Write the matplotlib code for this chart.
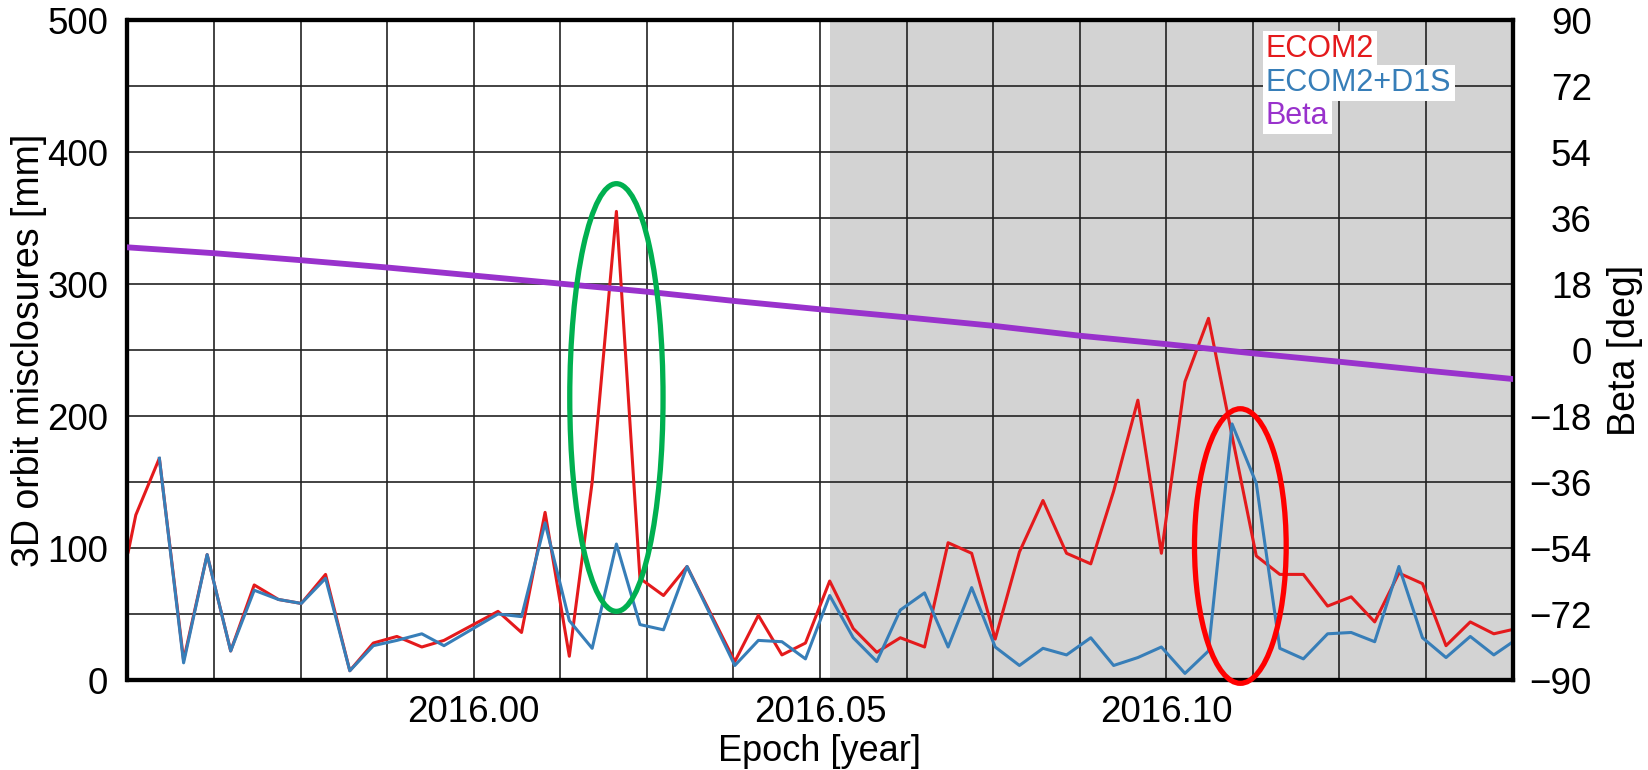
import numpy as np
import matplotlib
matplotlib.use("Agg")
import matplotlib.pyplot as plt
from matplotlib.patches import Ellipse
from matplotlib.ticker import MultipleLocator, FixedLocator, FormatStrFormatter

plt.rcParams['font.family'] = ['Liberation Sans', 'DejaVu Sans']

# ---------------- data ----------------
epoch = [2015.9501, 2015.9512, 2015.9546, 2015.9581, 2015.9615, 2015.9649, 2015.9683,
         2015.9718, 2015.9751, 2015.9786, 2015.9821, 2015.9855, 2015.9889, 2015.9925,
         2015.9957, 2016.0035, 2016.0069, 2016.0103, 2016.0138, 2016.0171, 2016.0206,
         2016.0240, 2016.0274, 2016.0308, 2016.0377, 2016.0411, 2016.0445, 2016.0479,
         2016.0514, 2016.0548, 2016.0582, 2016.0616, 2016.0651, 2016.0685, 2016.0719,
         2016.0753, 2016.0788, 2016.0822, 2016.0856, 2016.0891, 2016.0924, 2016.0959,
         2016.0993, 2016.1027, 2016.1061, 2016.1095, 2016.1130, 2016.1164, 2016.1198,
         2016.1233, 2016.1267, 2016.1301, 2016.1336, 2016.1370, 2016.1404, 2016.1439,
         2016.1473, 2016.1498]

ecom2 = [97, 125, 168, 15, 95, 22, 72, 61, 58, 80, 7, 28, 33, 25, 30, 52, 36, 127,
         18, 150, 355, 77, 64, 86, 14, 49, 19, 28, 75, 39, 21, 32, 25, 104, 96, 31,
         97, 136, 96, 88, 143, 212, 96, 226, 274, 185, 94, 80, 80, 56, 63, 44, 81,
         73, 26, 44, 35, 38]

ecom2_d1s = [np.nan, np.nan, 168, 13, 95, 22, 68, 61, 58, 77, 7, 26, 30, 35, 26, 50,
             48, 119, 45, 24, 103, 42, 38, 86, 11, 30, 29, 16, 64, 32, 14, 53, 66, 25,
             70, 25, 11, 24, 19, 32, 11, 17, 25, 5, 22, 194, 149, 24, 16, 35, 36, 29,
             86, 32, 17, 33, 19, 28]

beta_epoch = [2015.95, 2015.9625, 2015.975, 2015.9875, 2016.00, 2016.0125, 2016.025,
              2016.0375, 2016.05, 2016.0625, 2016.075, 2016.0875, 2016.10, 2016.1125,
              2016.125, 2016.1375, 2016.15]
beta = [28.0, 26.4, 24.5, 22.5, 20.3, 18.1, 15.9, 13.4, 11.1, 8.9, 6.6, 3.9, 1.6,
        -0.9, -3.2, -5.6, -7.9]

shade_start = 2016.0514
x_range = (2015.95, 2016.15)
xtick_labels_at = [2016.00, 2016.05, 2016.10]
legend_labels = ['ECOM2', 'ECOM2+D1S', 'Beta']

# ellipses: (center epoch, center mm, width yr, height mm)
green_ellipse = (2016.0206, 214, 0.01347, 324)
red_ellipse = (2016.1107, 101.5, 0.01324, 208)

RED = '#e41a1c'
BLUE = '#377eb8'
PURPLE = '#9932cc'

# ---------------- figure ----------------
fig = plt.figure(figsize=(16.49, 7.70), dpi=100)
ax = fig.add_axes([127.5 / 1649, 90 / 770, 1385 / 1649, 660 / 770])

ax.axvspan(shade_start, x_range[1], facecolor='#d3d3d3', edgecolor='none', zorder=0.2)
ax.plot(epoch, ecom2, color=RED, lw=2.2, zorder=2)
ax.plot(epoch, ecom2_d1s, color=BLUE, lw=2.2, zorder=3)

ax.set_xlim(*x_range)
ax.set_ylim(0, 500)
ax.xaxis.set_major_locator(FixedLocator(xtick_labels_at))
ax.xaxis.set_minor_locator(MultipleLocator(0.0125))
ax.xaxis.set_major_formatter(FormatStrFormatter('%.2f'))
ax.yaxis.set_major_locator(MultipleLocator(100))
ax.yaxis.set_minor_locator(MultipleLocator(50))
ax.set_axisbelow(True)
ax.grid(True, which='both', color='#222222', lw=1.2)
ax.tick_params(which='both', length=0)
ax.tick_params(axis='x', labelsize=26.5, pad=11)
ax.tick_params(axis='y', labelsize=26.5, pad=14)
for s in ax.spines.values():
    s.set_linewidth(3)
ax.set_xlabel('Epoch [year]', fontsize=26, labelpad=3)
ax.set_ylabel('3D orbit misclosures [mm]', fontsize=27)
ax.yaxis.set_label_coords(-0.058, 0.5)

ax2 = ax.twinx()
ax2.plot(beta_epoch, beta, color=PURPLE, lw=4.2, zorder=4)
ax2.set_ylim(-90, 90)
ax2.set_yticks(np.arange(-90, 91, 18))
ax2.tick_params(length=0, labelsize=26.5, pad=57)
for lab in ax2.get_yticklabels():
    lab.set_horizontalalignment('right')
for s in ax2.spines.values():
    s.set_linewidth(3)
ax2.set_ylabel('Beta [deg]', fontsize=27)
ax2.yaxis.set_label_coords(1.068, 0.5)

for (cx, cy, w, h), col in [(green_ellipse, '#00b050'), (red_ellipse, '#ff0000')]:
    e = Ellipse((cx, cy), w, h, transform=ax.transData, facecolor='none',
                edgecolor=col, lw=3.8, zorder=6, clip_on=False)
    ax2.add_patch(e)

for i, (lab, col) in enumerate(zip(legend_labels, [RED, BLUE, PURPLE])):
    ax2.text(0.822, 0.9435 - i * 0.0505, lab, transform=ax.transAxes, color=col,
             fontsize=22, va='baseline', ha='left', zorder=7,
             bbox=dict(facecolor='white', edgecolor='none', boxstyle='square,pad=0.1'))

fig.savefig('out.png', dpi=100)
